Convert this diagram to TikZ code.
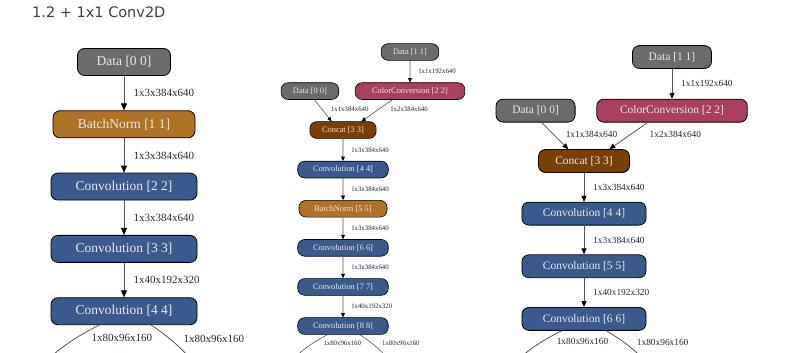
\documentclass[tikz,border=0pt]{standalone}
\usepackage{fontspec}
\setmainfont{Liberation Serif}
\newfontfamily\headfont{DejaVu Sans}
\usetikzlibrary{arrows.meta,positioning}

\definecolor{datagray}{HTML}{6B6B6B}
\definecolor{bnbrown}{HTML}{B07326}
\definecolor{convblue}{HTML}{3A5A8D}
\definecolor{ccpink}{HTML}{A8405E}
\definecolor{catbrown}{HTML}{7A3F04}
\definecolor{optext}{HTML}{E9E9E9}
\definecolor{dimtext}{HTML}{22283A}
\definecolor{wire}{HTML}{555555}

\begin{document}
\begin{tikzpicture}[x=1pt,y=1pt,>={Triangle[length=7pt,width=6pt,color=black]},node distance=34.5pt,
  op/.style={draw=black,line width=0.8pt,rounded corners=7pt,text=optext,minimum height=27pt,inner sep=2pt,font=\fontsize{13.5}{16}\selectfont},
  data/.style={op,fill=datagray,minimum width=93pt},
  bn/.style={op,fill=bnbrown,minimum width=142pt},
  conv/.style={op,fill=convblue,minimum width=146pt},
  cc/.style={op,fill=ccpink,minimum width=177pt},
  cat/.style={op,fill=catbrown,minimum width=107pt},
  dims/.style={font=\fontsize{11}{13}\selectfont,text=dimtext,right=6pt},
  every edge/.style={draw=wire,line width=0.8pt,->}]

  \path[use as bounding box,fill=white] (0,0) rectangle (798,353);

  \node[anchor=base west,inner sep=0pt,text=black!75,font=\headfont\fontsize{14.5}{17}\selectfont] (title) at (32,335) {1.2 + 1x1 Conv2D};

  % plain model
  \node[data] (l1) at (124,291) {Data [0 0]};
  \node[bn] (l2) [below=of l1] {BatchNorm [1 1]};
  \node[conv] (l3) [below=of l2] {Convolution [2 2]};
  \node[conv] (l4) [below=of l3] {Convolution [3 3]};
  \node[conv] (l5) [below=of l4] {Convolution [4 4]};
  \coordinate (l6) at (30,-25);
  \coordinate (l7) at (205,-25);

  \path (l1) edge node[dims] {1x3x384x640} (l2)
        (l2) edge node[dims] {1x3x384x640} (l3)
        (l3) edge node[dims] {1x3x384x640} (l4)
        (l4) edge node[dims] {1x40x192x320} (l5)
        (l5.209) edge[bend right=10] node[dims,pos=.29,right=12pt] {1x80x96x160} (l6)
        (l5.333) edge[bend left=10] node[dims,pos=.29,right=10pt] {1x80x96x160} (l7);

  % with color conversion and batchnorm
  \begin{scope}[every node/.append style={scale=.62},node distance=22pt,
    >={Triangle[length=4.5pt,width=3.8pt,color=black]},
    op/.append style={line width=0.6pt},every edge/.append style={line width=0.6pt}]
  \node[data] (m1) at (410,301) {Data [1 1]};
  \node[cc] (m2) [below=of m1] {ColorConversion [2 2]};
  \node[data] (m3) [left=16pt of m2] {Data [0 0]};
  \node[cat] (m4) at (343,223) {Concat [3 3]};
  \node[conv] (m5) [below=22.5pt of m4] {Convolution [4 4]};
  \node[bn] (m6) [below=of m5] {BatchNorm [5 5]};
  \node[conv] (m7) [below=of m6] {Convolution [6 6]};
  \node[conv] (m8) [below=of m7] {Convolution [7 7]};
  \node[conv] (m9) [below=of m8] {Convolution [8 8]};
  \coordinate (m10) at (285,-15);
  \coordinate (m11) at (395,-15);

  \path (m1) edge node[dims] {1x1x192x640} (m2)
        (m3.-63) edge node[dims,pos=.43,right=7pt] {1x1x384x640} (m4.143)
        (m2.206) edge node[dims,pos=.43,right=9pt] {1x2x384x640} (m4.25)
        (m4) edge node[dims] {1x3x384x640} (m5)
        (m5) edge node[dims] {1x3x384x640} (m6)
        (m6) edge node[dims] {1x3x384x640} (m7)
        (m7) edge node[dims] {1x3x384x640} (m8)
        (m8) edge node[dims] {1x40x192x320} (m9)
        (m9.209) edge[bend right=10] node[dims,pos=.29,right=8pt] {1x80x96x160} (m10)
        (m9.333) edge[bend left=10] node[dims,pos=.29,right=8pt] {1x80x96x160} (m11);
  \end{scope}

  % with color conversion, batchnorm folded
  \begin{scope}[every node/.append style={scale=.85},node distance=29pt,
    >={Triangle[length=6pt,width=5pt,color=black]}]
  \node[data] (r1) at (672,296) {Data [1 1]};
  \node[cc] (r2) [below=30pt of r1] {ColorConversion [2 2]};
  \node[data] (r3) [left=21pt of r2] {Data [0 0]};
  \node[cat] (r4) at (584,192) {Concat [3 3]};
  \node[conv] (r5) [below=of r4] {Convolution [4 4]};
  \node[conv] (r6) [below=of r5] {Convolution [5 5]};
  \node[conv] (r7) [below=of r6] {Convolution [6 6]};
  \coordinate (r8) at (505,-20);
  \coordinate (r9) at (655,-20);

  \path (r1) edge node[dims] {1x1x192x640} (r2)
        (r3.-63) edge node[dims,pos=.45,right=9pt] {1x1x384x640} (r4.143)
        (r2.206) edge node[dims,pos=.45,right=16pt] {1x2x384x640} (r4.25)
        (r4) edge node[dims] {1x3x384x640} (r5)
        (r5) edge node[dims] {1x3x384x640} (r6)
        (r6) edge node[dims] {1x40x192x320} (r7)
        (r7.208) edge[bend right=10] node[dims,pos=.31,right=12pt] {1x80x96x160} (r8)
        (r7.332) edge[bend left=10] node[dims,pos=.31,right=10pt] {1x80x96x160} (r9);
  \end{scope}

\end{tikzpicture}
\end{document}
